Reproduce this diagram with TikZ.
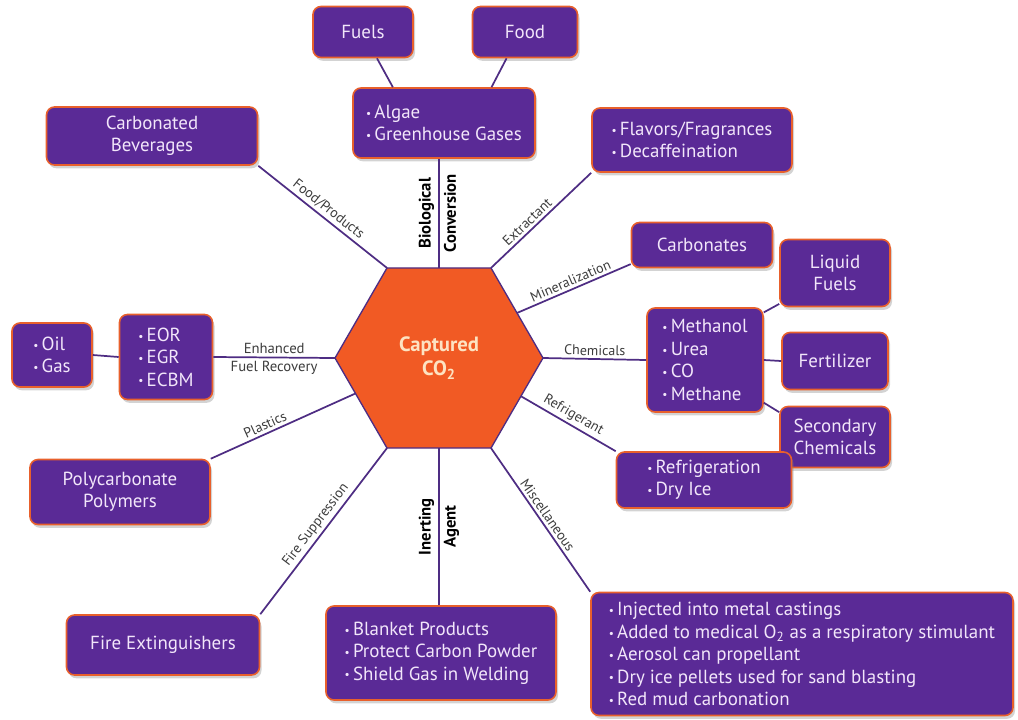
\documentclass[tikz,border=0pt]{standalone}
\usepackage{fontspec}
\setmainfont{PT Sans}
\usepackage{graphicx}
\usetikzlibrary{shapes.geometric,shadows,calc}
\definecolor{boxfill}{RGB}{90,42,150}
\definecolor{boxedge}{RGB}{232,96,44}
\definecolor{boxtext}{RGB}{242,230,250}
\definecolor{hexfill}{RGB}{241,90,36}
\definecolor{hextext}{RGB}{253,227,194}
\definecolor{linecol}{RGB}{78,45,131}
\definecolor{labcol}{RGB}{60,60,60}
\newcommand{\bul}{\raisebox{0.12ex}{\scalebox{0.6}{\textbullet}}\,}
\begin{document}
\begin{tikzpicture}[x=0.75pt,y=-0.75pt,
  box/.style={rectangle, rounded corners=6pt, fill=boxfill, draw=boxedge, line width=1.2pt,
    text=boxtext, font=\fontsize{14.2}{16.8}\selectfont, align=center, inner sep=2pt,
    drop shadow={shadow xshift=1.5pt, shadow yshift=-2.5pt, opacity=0.35}},
  lbox/.style={box, align=left},
  hexa/.style={regular polygon, regular polygon sides=6, minimum size=156pt, inner sep=0pt,
    outer sep=0pt, fill=hexfill, draw=linecol, line width=1pt, text=hextext,
    font=\bfseries\fontsize{15.5}{18}\selectfont, align=center},
  link/.style={draw=linecol, line width=1.3pt},
  lab/.style={font=\fontsize{10.5}{12.5}\selectfont, text=labcol, sloped, inner sep=2pt},
  blab/.style={font=\bfseries\fontsize{12.5}{14}\selectfont, text=black, sloped, inner sep=3pt},
]
\useasboundingbox (0,0) rectangle (1018,719);

% center
\node[hexa] (hex) at (439,358) {Captured\\CO\textsubscript{2}};

% boxes
\node[box, minimum width=75pt, minimum height=38.25pt] (fuels) at (363,32) {Fuels};
\node[box, minimum width=78.75pt, minimum height=38.25pt] (food) at (525,32) {Food};
\node[lbox, minimum width=136.5pt, minimum height=52.5pt] (algae) at (444,123) {\bul Algae\\\bul Greenhouse Gases};
\node[box, minimum width=158.25pt, minimum height=43.5pt] (carbbev) at (152,136) {Carbonated\\Beverages};
\node[lbox, minimum width=150pt, minimum height=48pt] (flavors) at (692,140) {\bul Flavors/Fragrances\\\bul Decaffeination};
\node[box, minimum width=105.75pt, minimum height=33.75pt] (carbonates) at (702,245) {Carbonates};
\node[box, minimum width=82.5pt, minimum height=50.25pt] (liquid) at (835,273) {Liquid\\Fuels};
\node[lbox, minimum width=87pt, minimum height=78pt] (methanol) at (705,360) {\bul Methanol\\\bul Urea\\\bul CO\\\bul Methane};
\node[box, minimum width=79.5pt, minimum height=42.75pt] (fertilizer) at (835,361) {Fertilizer};
\node[box, minimum width=82.5pt, minimum height=45.75pt] (secondary) at (835,437) {Secondary\\Chemicals};
\node[lbox, minimum width=131.25pt, minimum height=42pt] (refrig) at (704,480) {\bul Refrigeration\\\bul Dry Ice};
\node[lbox, minimum width=60pt, minimum height=48pt] (oilgas) at (52,355) {\bul Oil\\\bul Gas};
\node[lbox, minimum width=69.75pt, minimum height=63.75pt] (eor) at (166,357) {\bul EOR\\\bul EGR\\\bul ECBM};
\node[box, minimum width=135pt, minimum height=48.75pt] (polycarb) at (120,492) {Polycarbonate\\Polymers};
\node[box, minimum width=144.75pt, minimum height=45pt] (fireext) at (163,645) {Fire Extinguishers};
\node[lbox, minimum width=172.5pt, minimum height=70.5pt] (blanket) at (441,653) {\bul Blanket Products\\\bul Protect Carbon Powder\\\bul Shield Gas in Welding};
\node[lbox, minimum width=316.5pt, minimum height=92.25pt] (misc) at (802,654) {\bul Injected into metal castings\\\bul Added to medical O\textsubscript{2} as a respiratory stimulant\\\bul Aerosol can propellant\\\bul Dry ice pellets used for sand blasting\\\bul Red mud carbonation};

% connectors from the hexagon
\path[link] (carbbev.south east) -- (hex.120) node[lab, midway, above] {Food/Products};
\path[link] (hex.90) -- (hex.90 |- algae.south)
  node[blab, midway, above] {Biological} node[blab, midway, below] {Conversion};
\path[link] (hex.60) -- (flavors.south west) node[lab, pos=0.42, above] {Extractant};
\path[link] (hex.30) -- (carbonates.-165) node[lab, midway, above] {Mineralization};
\path[link] (hex.0) -- (methanol.west) node[lab, midway, above] {Chemicals};
\path[link] (hex.-25) -- (refrig.north west) node[lab, midway, above] {Refrigerant};
\path[link] (hex.300) -- (misc.north west) node[lab, midway, above] {Miscellaneous};
\path[link] (hex.-90 |- blanket.north) -- (hex.-90)
  node[blab, midway, above] {Inerting} node[blab, midway, below] {Agent};
\path[link] (hex.240) -- (fireext.north east) node[lab, midway, above] {Fire Suppression};
\path[link] (hex.203) -- (polycarb.north east) node[lab, pos=0.6, above] {Plastics};
\path[link] (eor.east) -- (hex.180)
  node[lab, midway, above, font=\fontsize{11}{13}\selectfont] {Enhanced}
  node[lab, midway, below, font=\fontsize{11}{13}\selectfont] {Fuel Recovery};

% secondary connectors
\path[link] (oilgas.east) -- (eor.west);
\path[link] (fuels.-62) -- (algae.145);
\path[link] (food.-125) -- (algae.37);
\path[link] (methanol.39) -- (liquid.209);
\path[link] (methanol.east) -- (fertilizer.west);
\path[link] (methanol.-36) -- (secondary.156);
\end{tikzpicture}
\end{document}
